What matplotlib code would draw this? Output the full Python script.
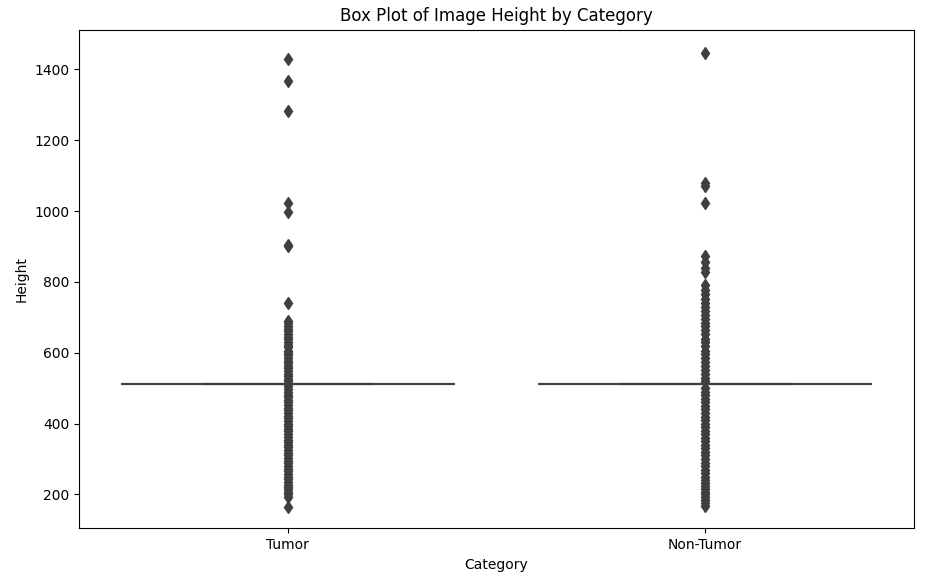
import matplotlib.pyplot as plt

categories = ["Tumor", "Non-Tumor"]

# most images are 512 px high, so the box collapses onto the median line
common_height = 512
common_count = [2000, 1500]

tumor_other = [1428, 1367, 1282, 1022, 996, 905, 900, 740,
               690, 684, 676, 668, 660, 652, 645, 638, 630, 622, 615, 606,
               600, 594, 586, 578, 570, 563, 556, 548, 540, 533, 526, 520,
               505, 498, 490, 482, 475, 468, 460, 452, 445, 438, 430, 422,
               415, 408, 400, 393, 385, 378, 370, 362, 355, 348, 340, 333,
               325, 318, 310, 302, 295, 288, 280, 272, 265, 258, 250, 243,
               236, 228, 222, 215, 208, 200, 194, 165]
nontumor_other = [1447, 1079, 1072, 1024, 872, 856, 840, 828, 790, 778,
                  765, 752, 740, 728, 718, 706, 695, 684, 675, 664, 652,
                  640, 630, 618, 606, 596, 585, 574, 562, 552, 540, 530,
                  520, 500, 490, 480, 470, 460, 450, 440, 430, 420, 410,
                  400, 390, 380, 370, 360, 350, 340, 330, 320, 310, 300,
                  290, 280, 270, 260, 250, 240, 232, 224, 216, 208, 200,
                  192, 184, 176, 168]

tumor = tumor_other + [common_height] * common_count[0]
nontumor = nontumor_other + [common_height] * common_count[1]

fig, ax = plt.subplots(figsize=(9.25, 5.82), dpi=100)
fig.subplots_adjust(left=0.0854, right=0.988, top=0.949, bottom=0.092)

gray = "#3f3f3f"
ax.boxplot([tumor, nontumor], positions=[0, 1], widths=0.8,
           patch_artist=True,
           boxprops=dict(facecolor="#3274a1", edgecolor=gray, linewidth=1.5),
           medianprops=dict(color=gray, linewidth=1.5),
           whiskerprops=dict(color=gray, linewidth=1.5),
           capprops=dict(color=gray, linewidth=1.5),
           flierprops=dict(marker="d", markerfacecolor=gray,
                           markeredgecolor=gray, markersize=6))

ax.set_xticks([0, 1])
ax.set_xticklabels(categories)
ax.set_xlim(-0.5, 1.5)
ax.set_ylim(104, 1512)
ax.set_xlabel("Category")
ax.set_ylabel("Height")
ax.set_title("Box Plot of Image Height by Category")

plt.savefig("out.png")
